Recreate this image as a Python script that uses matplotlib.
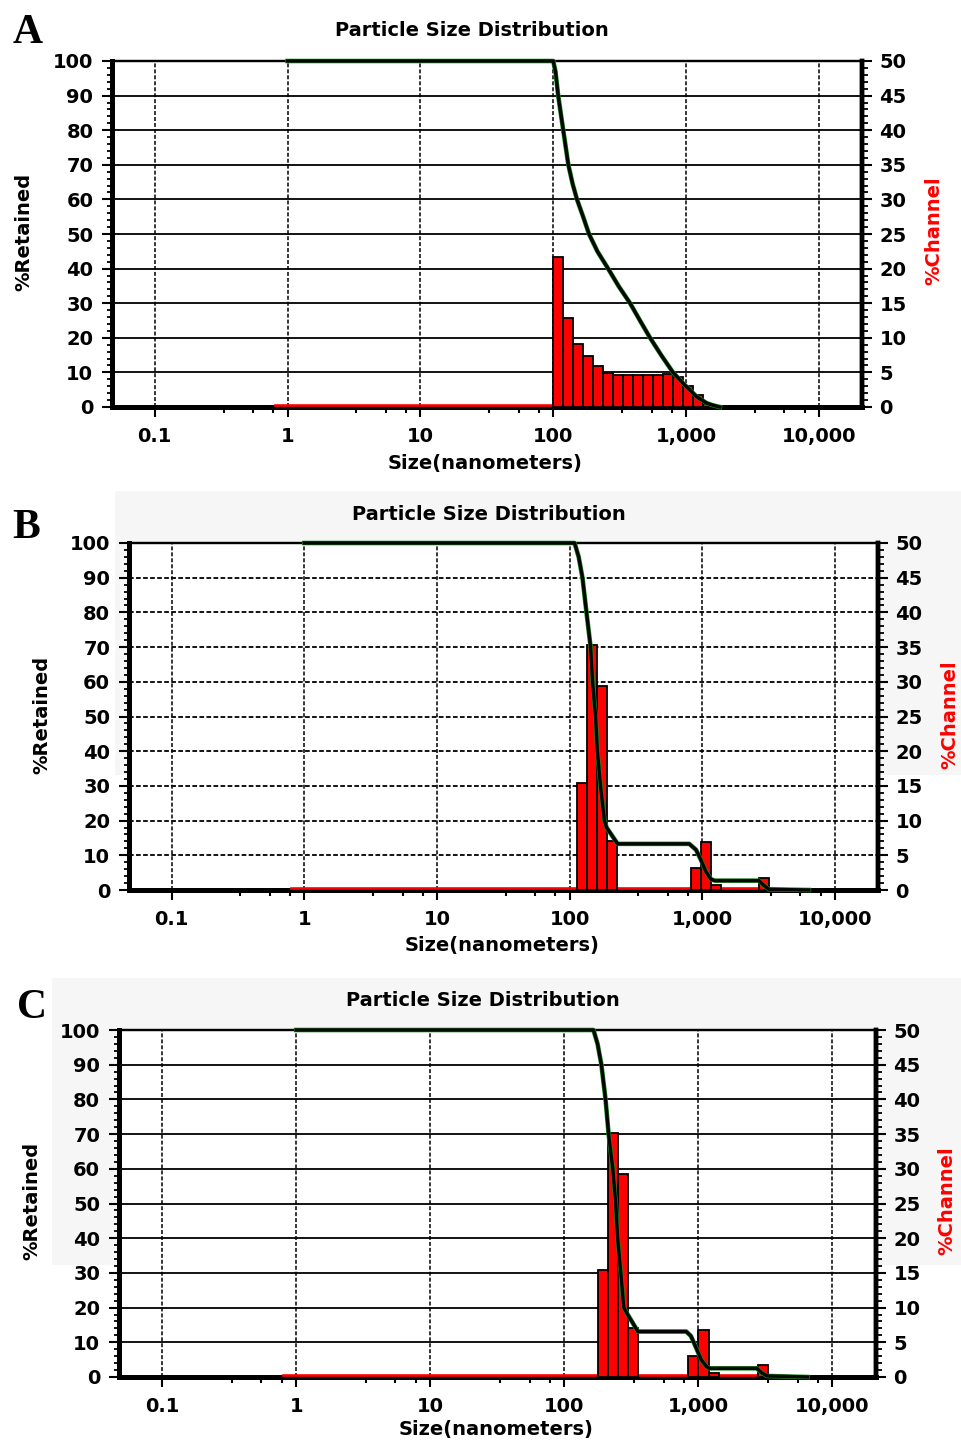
import matplotlib
matplotlib.use('Agg')
import matplotlib.pyplot as plt
from matplotlib.patches import Rectangle
from matplotlib.ticker import FixedLocator, NullFormatter
from matplotlib.transforms import offset_copy

# ---------------- data ----------------
x_ticks = [0.1, 1, 10, 100, 1000, 10000]
x_tick_labels = ['0.1', '1', '10', '100', '1,000', '10,000']
minor_mult = [3.3, 5.5, 7.8]
retained_ticks = list(range(0, 101, 10))
channel_ticks = list(range(0, 51, 5))
bin_ratio = 2 ** 0.25

# Panel A
A_zero_range = [0.8, 100]
A_bin_lo = [100, 118.9, 141.4, 168.2, 200, 237.8, 282.8, 336.4, 400, 475.7,
            565.7, 672.7, 800, 951.4, 1131, 1345]
A_chan = [21.7, 12.8, 9.1, 7.4, 5.9, 4.9, 4.6, 4.6, 4.6, 4.6,
          4.6, 4.7, 4.4, 3.0, 1.7, 0.5]
A_cum_size = [1, 100, 104, 109, 119, 130, 140, 151, 168, 186, 215, 259, 310,
              379, 450, 536, 650, 798, 948, 1209, 1434, 1594, 1800]
A_cum_val = [100, 100, 97, 90, 80, 70, 64.5, 60, 55, 50, 45, 40, 35,
             30, 25, 20, 15, 10, 6.9, 2.9, 1.1, 0.5, 0]

# Panel B
B_zero_range = [0.8, 2678]
B_bin_lo = [112.9, 134.3, 159.7, 189.9, 826, 982, 1168, 2678]
B_chan = [15.4, 35.3, 29.4, 7.1, 3.1, 6.9, 0.7, 1.7]
B_cum_size = [1, 109, 117, 125, 134, 144, 149, 157, 162, 171, 183, 190, 230,
              798, 897, 977, 1065, 1165, 1240, 2678, 2900, 3184, 6372]
B_cum_val = [100, 100, 96, 90, 80, 70, 60, 50, 40, 30, 20, 18, 13.3,
             13.3, 11.6, 8.7, 5.3, 3.1, 2.7, 2.7, 1.4, 0.2, 0]

# Panel C
C_zero_range = [0.8, 2780]
C_bin_lo = [177, 210.5, 250.3, 297.7, 842, 1001, 1190, 2780]
C_chan = [15.4, 35.1, 29.2, 7.0, 3.0, 6.8, 0.6, 1.7]
C_cum_size = [1, 165, 177, 189, 203, 214, 230, 242, 250, 264, 278, 297, 354,
              812, 880, 960, 1050, 1150, 1212, 2728, 2950, 3244, 6524]
C_cum_val = [100, 100, 96, 90, 80, 70, 60, 50, 40, 30, 20, 18, 13.1,
             13.1, 11.8, 8.5, 5.0, 3.0, 2.5, 2.5, 1.3, 0.3, 0]

# ---------------- figure ----------------
W, H = 961, 1444
plt.rcParams['font.family'] = ['DejaVu Sans']
plt.rcParams['font.weight'] = 'bold'
fig = plt.figure(figsize=(W / 100, H / 100), dpi=100)


def fx(p):
    return p / W


def fy(p):
    return 1 - p / H


XMIN, XMAX = 10 ** -1.322, 10 ** 4.325
FS = 14

# faint grey backgrounds behind panels B and C
fig.add_artist(Rectangle((fx(115), fy(775)), fx(961) - fx(115), (775 - 491) / H,
                         transform=fig.transFigure, facecolor='#f6f6f6',
                         edgecolor='none', zorder=-5))
fig.add_artist(Rectangle((fx(52), fy(1265)), fx(961) - fx(52), (1265 - 978) / H,
                         transform=fig.transFigure, facecolor='#f6f6f6',
                         edgecolor='none', zorder=-5))

panels = [
    dict(letter='A', letter_xy=(13, 43), box=(112, 61, 862, 407),
         title_xy=(472, 31), xlabel_xy=(485, 463), ylab_l=(24, 232),
         ylab_r=(934, 231), hls='-', zr=A_zero_range, lo=A_bin_lo, ch=A_chan,
         cs=A_cum_size, cv=A_cum_val),
    dict(letter='B', letter_xy=(12, 538), box=(129, 543, 878, 890),
         title_xy=(489, 514), xlabel_xy=(502, 945), ylab_l=(42, 715),
         ylab_r=(950, 715), hls=(0, (2.6, 1.3)), zr=B_zero_range, lo=B_bin_lo,
         ch=B_chan, cs=B_cum_size, cv=B_cum_val),
    dict(letter='C', letter_xy=(17, 1018), box=(119, 1030, 876, 1377),
         title_xy=(483, 1001), xlabel_xy=(496, 1430), ylab_l=(32, 1201),
         ylab_r=(947, 1201), hls='-', zr=C_zero_range, lo=C_bin_lo, ch=C_chan,
         cs=C_cum_size, cv=C_cum_val),
]

minor_ticks = [d * m for d in x_ticks[:-1] for m in minor_mult]

for p in panels:
    x0, y0, x1, y1 = p['box']
    ax = fig.add_axes([fx(x0), fy(y1), fx(x1) - fx(x0), (y1 - y0) / H])
    ax.set_xscale('log')
    ax.set_xlim(XMIN, XMAX)
    ax.set_ylim(0, 100)
    ax.xaxis.set_major_locator(FixedLocator(x_ticks))
    ax.set_xticklabels(x_tick_labels)
    ax.xaxis.set_minor_locator(FixedLocator(minor_ticks))
    ax.xaxis.set_minor_formatter(NullFormatter())
    ax.yaxis.set_major_locator(FixedLocator(retained_ticks))
    ax.yaxis.set_minor_locator(FixedLocator(list(range(0, 101, 2))))
    ax.grid(axis='x', which='major', color='k', linestyle=(0, (2.6, 1.3)),
            linewidth=1.1)
    ax.grid(axis='y', which='major', color='k', linestyle=p['hls'],
            linewidth=1.3)
    ax.tick_params(axis='x', which='major', length=7.5, width=1.5, pad=7,
                   labelsize=FS)
    ax.tick_params(axis='x', which='minor', length=4, width=1.5)
    ax.tick_params(axis='y', which='major', length=7.5, width=1.5, pad=6,
                   labelsize=FS)
    ax.tick_params(axis='y', which='minor', length=3.5, width=1.3)

    ax2 = ax.twinx()
    ax2.set_ylim(0, 50)
    ax2.yaxis.set_major_locator(FixedLocator(channel_ticks))
    ax2.yaxis.set_minor_locator(FixedLocator(list(range(0, 51, 1))))
    ax2.tick_params(axis='y', which='major', length=7.5, width=1.5, pad=5,
                    labelsize=FS)
    ax2.tick_params(axis='y', which='minor', length=4, width=1.3)

    for a in (ax, ax2):
        a.spines['left'].set_linewidth(3.5)
        a.spines['bottom'].set_linewidth(3.5)
        a.spines['right'].set_linewidth(3.2)
        a.spines['top'].set_linewidth(1.6)

    # red channel baseline (zero-valued channels)
    base_tr = offset_copy(ax2.transData, fig=fig, x=0, y=1.8, units='dots')
    ax2.plot(p['zr'], [0, 0], color='#ff0000', linewidth=1.9,
             transform=base_tr, clip_on=False, zorder=2.6)

    # channel bars
    widths = [lo * (bin_ratio - 1) for lo in p['lo']]
    ax2.bar(p['lo'], p['ch'], width=widths, align='edge', color='#ff0000',
            edgecolor='black', linewidth=1.3, zorder=3)

    # cumulative %retained curve (on retained scale, drawn above bars)
    ax2.plot(p['cs'], p['cv'], transform=ax.transData, color='#1e8c1e',
             linewidth=3.3, zorder=4, clip_on=False, solid_joinstyle='round')
    ax2.plot(p['cs'], p['cv'], transform=ax.transData, color='#040604',
             linewidth=2.4, zorder=5, clip_on=False, solid_joinstyle='round')

    # texts
    fig.text(fx(p['letter_xy'][0]), fy(p['letter_xy'][1]), p['letter'],
             ha='left', va='baseline', fontsize=30, fontweight='bold',
             family='Liberation Serif')
    fig.text(fx(p['title_xy'][0]), fy(p['title_xy'][1]),
             'Particle Size Distribution', ha='center', va='center',
             fontsize=FS, fontweight='bold')
    fig.text(fx(p['xlabel_xy'][0]), fy(p['xlabel_xy'][1]), 'Size(nanometers)',
             ha='center', va='center', fontsize=FS, fontweight='bold')
    fig.text(fx(p['ylab_l'][0]), fy(p['ylab_l'][1]), '%Retained',
             ha='center', va='center', rotation=90, fontsize=FS,
             fontweight='bold')
    fig.text(fx(p['ylab_r'][0]), fy(p['ylab_r'][1]), '%Channel',
             ha='center', va='center', rotation=90, fontsize=FS,
             fontweight='bold', color='#ff0000')

fig.savefig('out.png', dpi=100)
